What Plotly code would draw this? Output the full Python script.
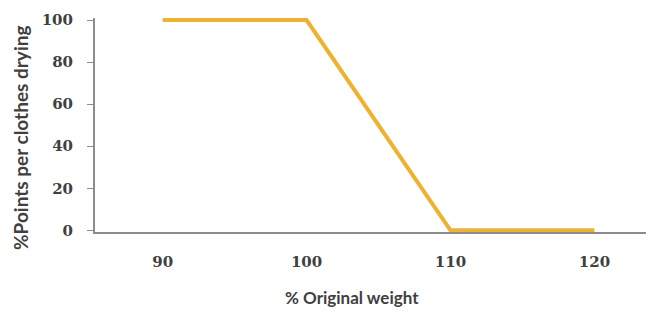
import plotly.graph_objects as go

weight = [90, 100, 110, 120]
points = [100, 100, 0, 0]
x_ticks = [90, 100, 110, 120]
y_ticks = [0, 20, 40, 60, 80, 100]

# page body has an 8px margin; work in figure coordinates = page - 8
OFF = 8
W, H = 654 - OFF, 313 - OFF
L, R, T = 95 - OFF, 2, 18 - OFF
B = H - (232 - OFF)
pw = W - L - R
ph = H - T - B

fig = go.Figure()
fig.add_trace(go.Scatter(
    x=weight, y=points, mode="lines",
    line=dict(color="#EDB330", width=4),
    showlegend=False,
))

tick_font = dict(family="DejaVu Serif, Liberation Serif, serif", size=15, color="#404040", weight="bold")
title_font = dict(family="Lato, Open Sans, sans-serif", color="#404040", weight="bold")

fig.update_layout(
    width=W, height=H,
    margin=dict(l=L, r=R, t=T, b=B, autoexpand=False),
    paper_bgcolor="white", plot_bgcolor="white",
    xaxis=dict(
        range=[85.3, 124.0], tickvals=x_ticks, ticktext=[str(v) for v in x_ticks],
        showgrid=False, zeroline=False, showline=True, linecolor="#8c8c8c", linewidth=2,
        ticks="", tickfont=tick_font, ticklabelstandoff=15, automargin=False,
    ),
    yaxis=dict(
        range=[-0.8, 101], tickvals=y_ticks,
        showgrid=False, zeroline=False, showline=True, linecolor="#8c8c8c", linewidth=2,
        ticks="outside", ticklen=6, tickcolor="#8c8c8c", tickwidth=1,
        tickfont=tick_font, ticklabelstandoff=11, automargin=False,
    ),
    annotations=[
        dict(text="% Original weight", x=(352 - OFF - L) / pw, y=(H - B - (297 - OFF)) / ph,
             xref="paper", yref="paper", xanchor="center", yanchor="middle", showarrow=False,
             font=dict(size=17, **title_font)),
        dict(text="%Points per clothes drying", x=(20 - OFF - L) / pw, y=(H - B - (138 - OFF)) / ph,
             xref="paper", yref="paper", xanchor="center", yanchor="middle",
             textangle=-90, showarrow=False,
             font=dict(size=19, **title_font)),
    ],
)

fig.write_html("out.html")
